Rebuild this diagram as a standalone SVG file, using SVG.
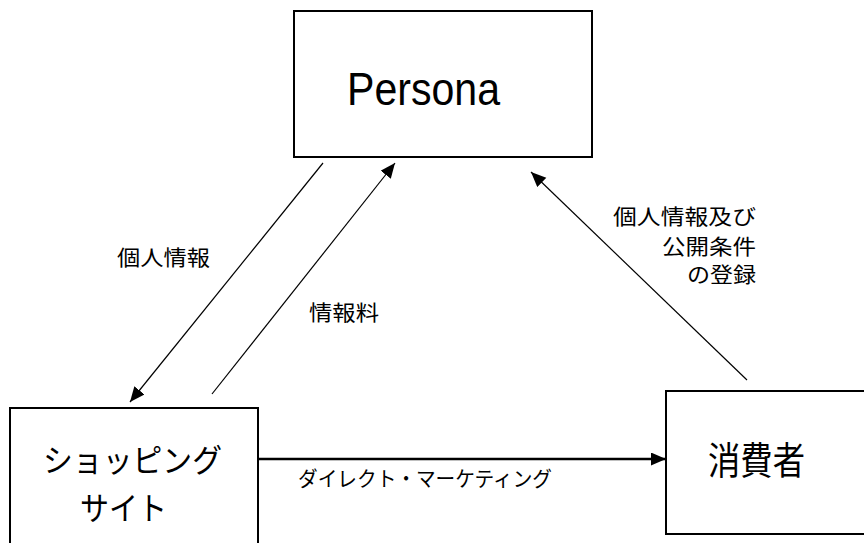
<svg xmlns="http://www.w3.org/2000/svg" width="864" height="543" viewBox="0 0 864 543">
<style>
.box{fill:#fff;stroke:#000;stroke-width:2}
.ln{fill:none;stroke:#000;stroke-width:1.2}
.thick{fill:none;stroke:#000;stroke-width:2.6}
.big{font-family:"Noto Sans CJK JP","Liberation Sans",sans-serif;fill:#000}
.lbl{font-family:"Noto Sans CJK JP","Liberation Sans",sans-serif;font-size:21px;fill:#000}
</style>
<defs>
<marker id="ah" markerUnits="userSpaceOnUse" markerWidth="16" markerHeight="14" refX="15" refY="6.5" orient="auto" viewBox="0 0 16 14">
<path d="M0,0 L15,6.5 L0,13 z" fill="#000"/>
</marker>
</defs>
<rect width="864" height="543" fill="#fff"/>
<g id="persona">
<rect class="box" x="294" y="11" width="298" height="146"/>
<text x="347" y="105" font-family="Liberation Sans, Arial, sans-serif" font-size="47" textLength="153" lengthAdjust="spacingAndGlyphs">Persona</text>
</g>
<g id="shop">
<rect class="box" x="10" y="408" width="248" height="150"/>
<text class="big" x="43" y="472" font-size="32" textLength="179" lengthAdjust="spacingAndGlyphs">ショッピング</text>
<text class="big" x="80" y="520" font-size="32" textLength="87" lengthAdjust="spacingAndGlyphs">サイト</text>
</g>
<g id="consumer">
<rect class="box" x="666" y="391" width="210" height="143"/>
<text class="big" x="708" y="474" font-size="38" textLength="97" lengthAdjust="spacingAndGlyphs">消費者</text>
</g>
<g id="connectors">
<line class="ln" x1="323" y1="163" x2="130" y2="402" marker-end="url(#ah)"/>
<line class="ln" x1="212" y1="394" x2="395" y2="163" marker-end="url(#ah)"/>
<line class="ln" x1="747" y1="380" x2="531" y2="172" marker-end="url(#ah)"/>
<line class="thick" x1="258" y1="459" x2="666" y2="459" marker-end="url(#ah)"/>
</g>
<g id="labels">
<text class="lbl" x="117" y="265" textLength="93" lengthAdjust="spacingAndGlyphs">個人情報</text>
<text class="lbl" x="309" y="320" textLength="70" lengthAdjust="spacingAndGlyphs">情報料</text>
<text class="lbl" x="756" y="224" text-anchor="end" textLength="143" lengthAdjust="spacingAndGlyphs">個人情報及び</text>
<text class="lbl" x="756" y="254" text-anchor="end" textLength="94" lengthAdjust="spacingAndGlyphs">公開条件</text>
<text class="lbl" x="756" y="282" text-anchor="end" textLength="69" lengthAdjust="spacingAndGlyphs">の登録</text>
<text class="lbl" x="298" y="486" font-size="19" textLength="254" lengthAdjust="spacingAndGlyphs">ダイレクト・マーケティング</text>
</g>
</svg>
